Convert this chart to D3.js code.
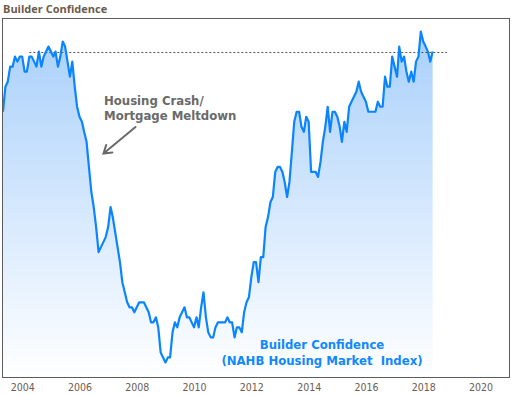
<!DOCTYPE html>
<html>
<head>
<meta charset="utf-8">
<script src="https://cdn.jsdelivr.net/npm/d3@7"></script>
<style>
  html, body { margin: 0; padding: 0; background: #ffffff; }
  svg { display: block; }
</style>
</head>
<body>
<svg id="chart" width="522" height="395"></svg>
<script>
// ---------------- data ----------------
const chartTitle = "Builder Confidence";
const seriesName = ["Builder Confidence", "(NAHB Housing Market  Index)"];
const annotationText = ["Housing Crash/", "Mortgage Meltdown"];
const firstMonth = "2003-05";   // monthly observations start
const tickYears = [2004, 2006, 2008, 2010, 2012, 2014, 2016, 2018, 2020];
const referenceLevel = 70;
const referenceSpan = ["2004-04", "2018-11"];
const xDomain = ["2003-04-25", "2021-01-05"];
const yDomain = [5, 76.6];

const hmi2003 = [58, 63, 64, 67, 67, 69, 68, 69];
const hmi2004 = [69, 66, 66, 69, 69, 68, 67, 70, 67, 69, 70, 71];
const hmi2005 = [70, 69, 70, 67, 69, 72, 71, 68, 65, 68, 63, 59];
const hmi2006 = [57, 56, 54, 52, 47, 42, 39, 35, 30, 31, 32, 33];
const hmi2007 = [35, 39, 37, 34, 31, 28, 24, 22, 20, 19, 19, 18];
const hmi2008 = [19, 20, 20, 20, 19, 18, 16, 16, 17, 15, 10, 9];
const hmi2009 = [8, 9, 9, 14, 16, 15, 17, 18, 19, 17, 17, 16];
const hmi2010 = [15, 17, 15, 19, 22, 17, 14, 13, 13, 15, 16, 16];
const hmi2011 = [16, 16, 17, 16, 16, 13, 15, 15, 14, 18, 20, 21];
const hmi2012 = [25, 28, 28, 24, 29, 29, 35, 37, 40, 41, 46, 47];
const hmi2013 = [47, 46, 44, 41, 44, 50, 56, 58, 58, 55, 54, 57];
const hmi2014 = [56, 46, 46, 46, 45, 48, 52, 55, 59, 54, 58, 58];
const hmi2015 = [57, 55, 52, 56, 54, 59, 60, 61, 62, 64, 62, 61];
const hmi2016 = [60, 58, 58, 58, 58, 60, 59, 59, 65, 63, 63, 69];
const hmi2017 = [67, 65, 71, 68, 69, 66, 64, 66, 64, 68, 69, 74];
const hmi2018 = [72, 71, 70, 68, 70];

// ---------------- build ----------------
const values = [].concat(hmi2003, hmi2004, hmi2005, hmi2006, hmi2007, hmi2008,
  hmi2009, hmi2010, hmi2011, hmi2012, hmi2013, hmi2014, hmi2015, hmi2016, hmi2017, hmi2018);
const parseMonth = d3.timeParse("%Y-%m");
const parseDay = d3.timeParse("%Y-%m-%d");
const start = parseMonth(firstMonth);
const data = values.map((v, i) => ({ date: d3.timeMonth.offset(start, i), value: v }));

const W = 522, H = 395;
const plot = { left: 2.5, right: 509.5, top: 18.5, bottom: 377.5 };

const x = d3.scaleTime().domain(xDomain.map(parseDay)).range([plot.left, plot.right]);
const y = d3.scaleLinear().domain(yDomain).range([plot.bottom, plot.top]);

const svg = d3.select("#chart");
svg.append("rect").attr("width", W).attr("height", H).attr("fill", "#ffffff");

const defs = svg.append("defs");
const grad = defs.append("linearGradient")
  .attr("id", "areaGrad").attr("gradientUnits", "userSpaceOnUse")
  .attr("x1", 0).attr("x2", 0)
  .attr("y1", y(d3.max(values))).attr("y2", plot.bottom);
grad.append("stop").attr("offset", "0%").attr("stop-color", "#a9d0fb");
grad.append("stop").attr("offset", "100%").attr("stop-color", "#ffffff");

const area = d3.area()
  .x(d => x(d.date)).y0(plot.bottom).y1(d => y(d.value))
  .curve(d3.curveLinear);
svg.append("path").datum(data).attr("d", area).attr("fill", "url(#areaGrad)");

// reference dashed line
svg.append("line")
  .attr("x1", x(parseMonth(referenceSpan[0]))).attr("x2", x(parseMonth(referenceSpan[1])))
  .attr("y1", Math.round(y(referenceLevel)) + 0.5).attr("y2", Math.round(y(referenceLevel)) + 0.5)
  .attr("stroke", "#555555").attr("stroke-width", 1).attr("stroke-dasharray", "2,2");

// series line
const line = d3.line().x(d => x(d.date)).y(d => y(d.value));
svg.append("path").datum(data).attr("d", line)
  .attr("fill", "none").attr("stroke", "#0a84ff").attr("stroke-width", 2.2)
  .attr("stroke-linejoin", "round");

// frame
svg.append("rect")
  .attr("x", plot.left).attr("y", plot.top)
  .attr("width", plot.right - plot.left).attr("height", plot.bottom - plot.top)
  .attr("fill", "none").attr("stroke", "#5c5c5c").attr("stroke-width", 1);

// x axis labels
const axis = d3.axisBottom(x)
  .tickValues(tickYears.map(yr => new Date(yr, 0, 1)))
  .tickFormat(d3.timeFormat("%Y"))
  .tickSize(0).tickPadding(6.5);
const gx = svg.append("g").attr("transform", `translate(0,${plot.bottom})`).call(axis);
gx.select(".domain").remove();
gx.selectAll("text")
  .attr("fill", "#6b5d51")
  .style("font-family", "'DejaVu Sans Condensed', 'DejaVu Sans', sans-serif")
  .style("font-stretch", "condensed")
  .style("font-size", "10.5px");

// title
svg.append("text")
  .attr("x", 3).attr("y", 13.3)
  .attr("fill", "#6b5b4c")
  .style("font-family", "'Open Sans', sans-serif")
  .style("font-weight", "bold")
  .style("font-size", "11px")
  .text(chartTitle);

// annotation
const ann = svg.append("g")
  .style("font-family", "'DejaVu Sans Condensed', 'DejaVu Sans', sans-serif")
  .style("font-stretch", "condensed")
  .style("font-weight", "bold")
  .style("font-size", "13px")
  .attr("fill", "#6a6a6a");
annotationText.forEach((t, i) => {
  ann.append("text").attr("x", 104).attr("y", 104.5 + i * 15.2).text(t);
});
const tip = [103.5, 153.5], tail = [135.5, 127];
const ang = Math.atan2(tail[1] - tip[1], tail[0] - tip[0]);
const armLen = 9, armAng = Math.PI / 5.5;
const arm1 = [tip[0] + armLen * Math.cos(ang + armAng), tip[1] + armLen * Math.sin(ang + armAng)];
const arm2 = [tip[0] + armLen * Math.cos(ang - armAng), tip[1] + armLen * Math.sin(ang - armAng)];
svg.append("path")
  .attr("d", `M${tail[0]},${tail[1]}L${tip[0]},${tip[1]}M${arm1[0]},${arm1[1]}L${tip[0]},${tip[1]}L${arm2[0]},${arm2[1]}`)
  .attr("fill", "none").attr("stroke", "#6a6a6a").attr("stroke-width", 2)
  .attr("stroke-linecap", "round").attr("stroke-linejoin", "miter");

// series label
const lab = svg.append("g")
  .style("font-family", "'DejaVu Sans Condensed', 'DejaVu Sans', sans-serif")
  .style("font-stretch", "condensed")
  .style("font-weight", "bold")
  .style("font-size", "13px")
  .attr("fill", "#1088ff")
  .attr("text-anchor", "middle");
seriesName.forEach((t, i) => {
  lab.append("text").attr("x", 322).attr("y", 348.5 + i * 16)
    .style("white-space", "pre").text(t);
});
</script>
</body>
</html>
